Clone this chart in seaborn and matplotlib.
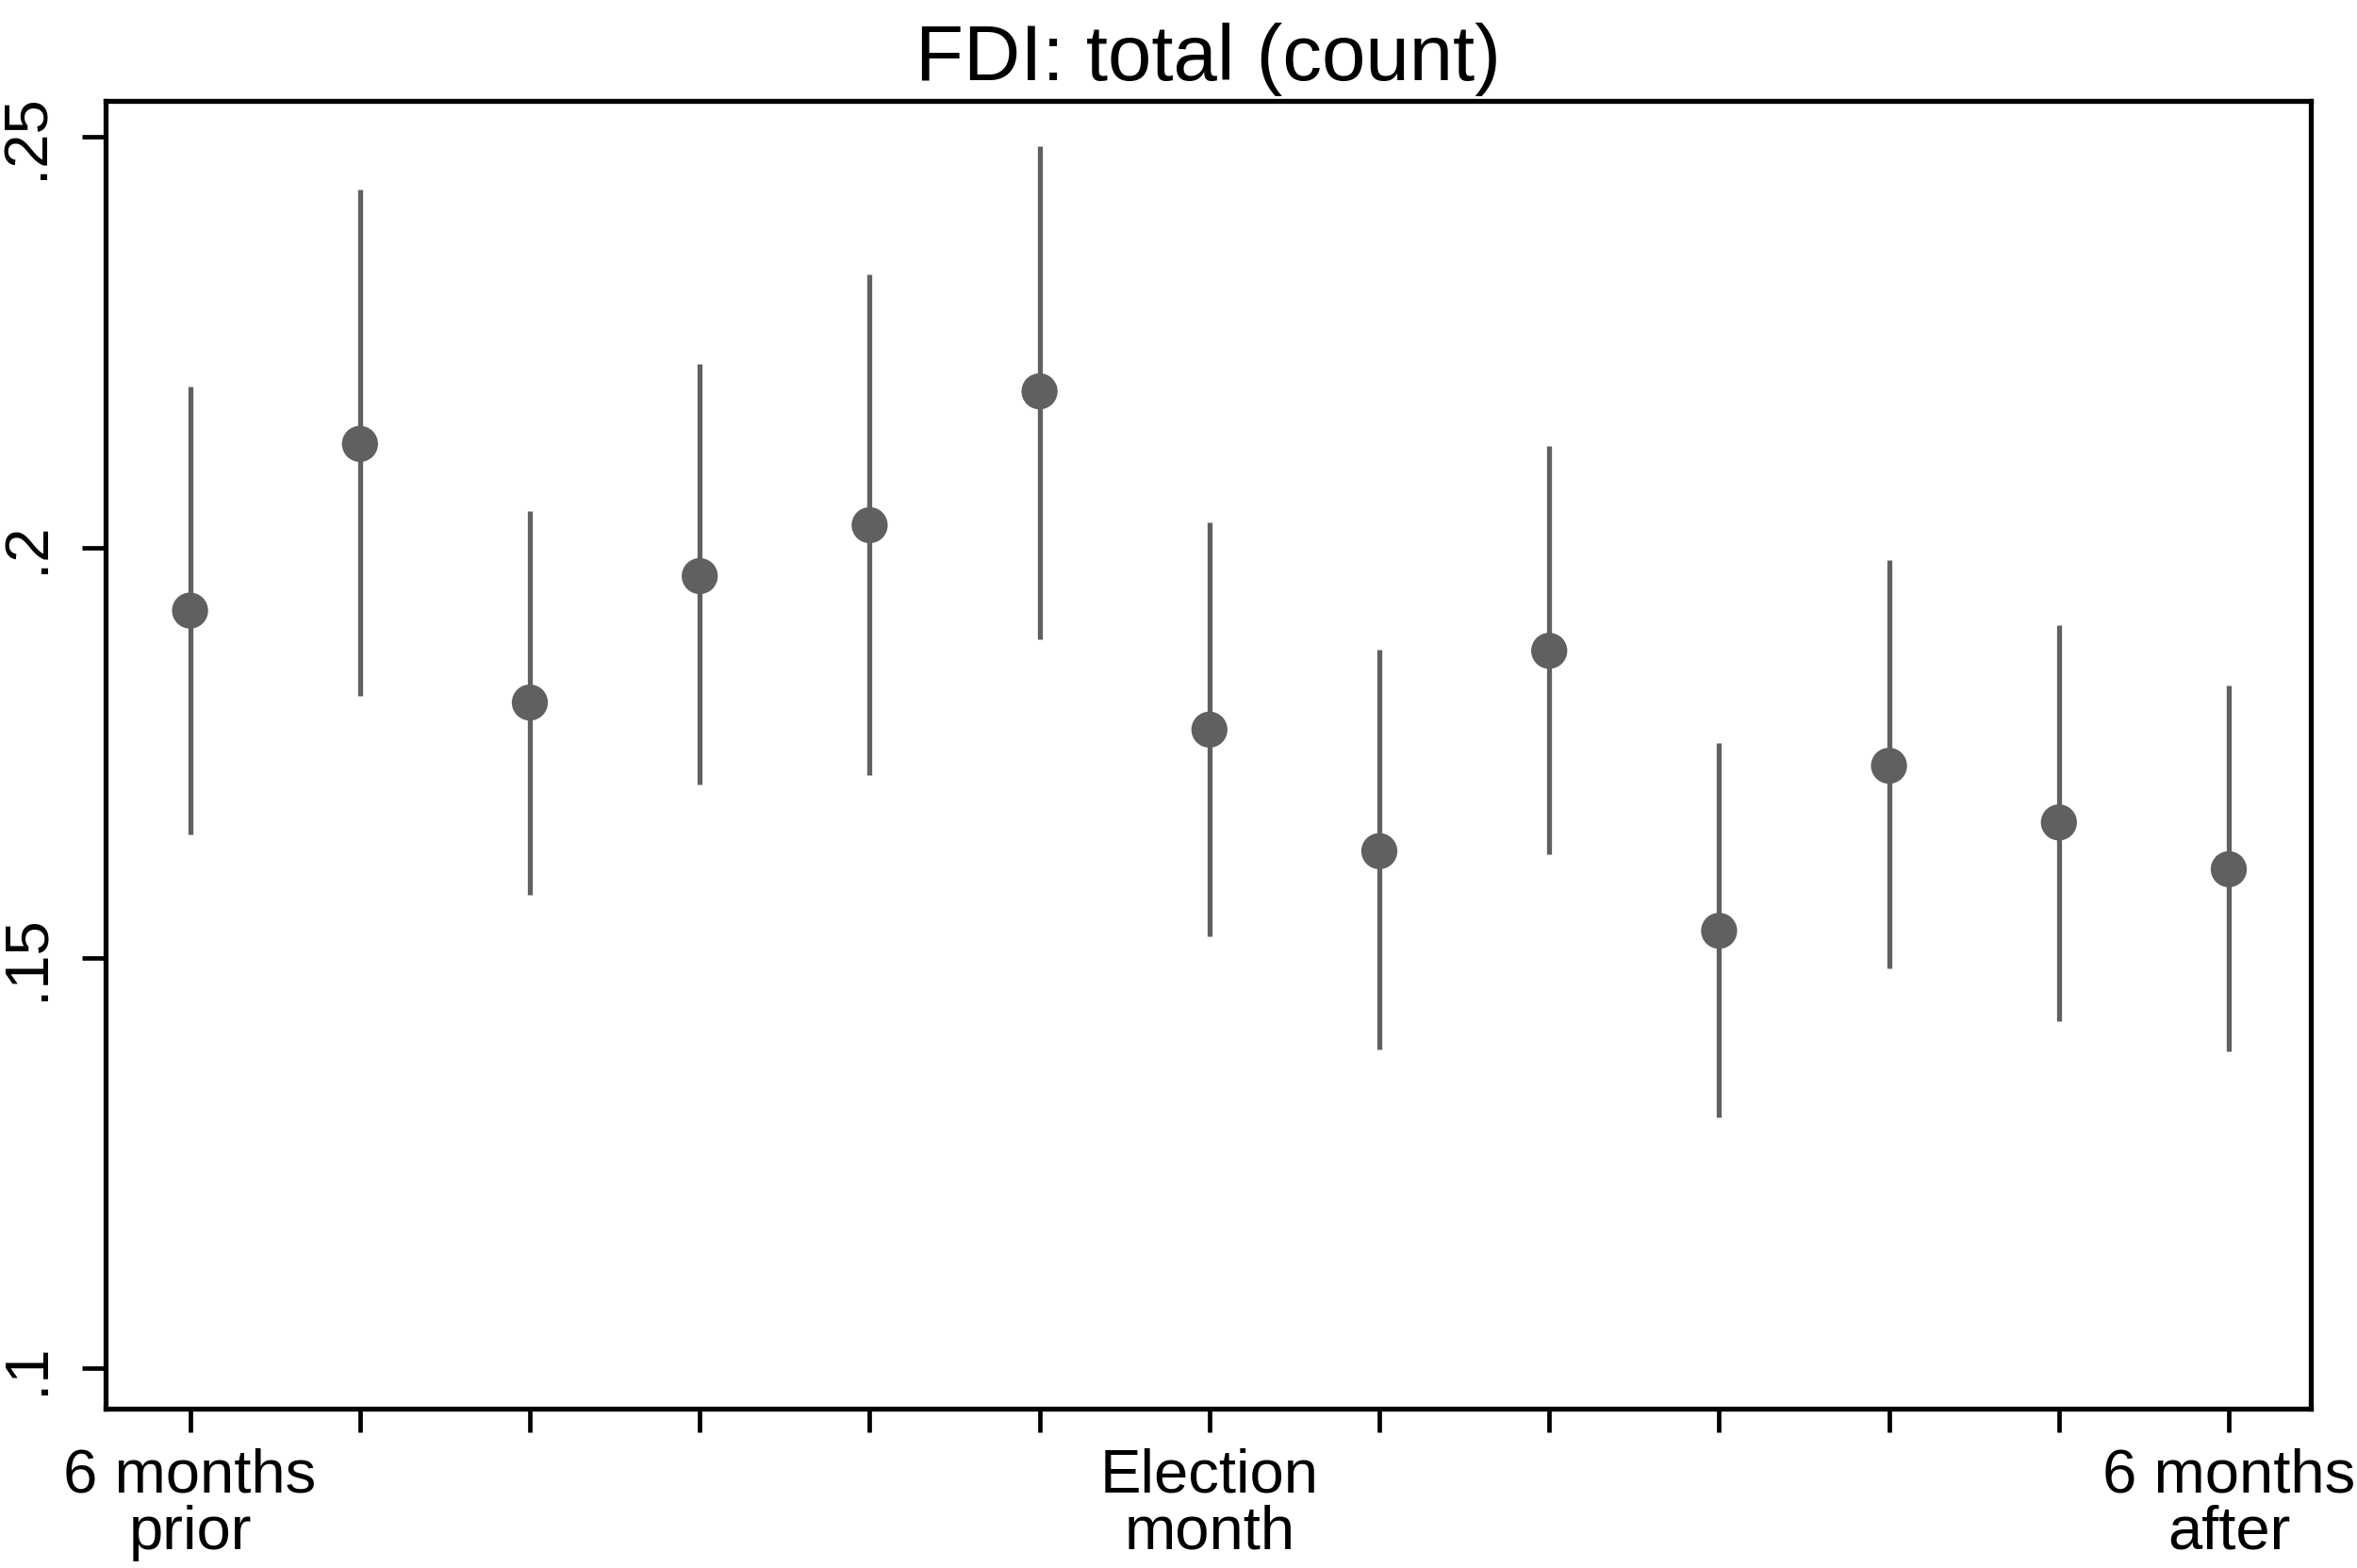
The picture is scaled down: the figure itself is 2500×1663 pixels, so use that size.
import matplotlib
matplotlib.use("Agg")
import matplotlib.pyplot as plt
import numpy as np
import pandas as pd
import seaborn as sns

# ── Data ──────────────────────────────────────────────────────────────────────
months = list(range(-6, 7))
estimate = [0.1923, 0.2126, 0.1811, 0.1965, 0.2027, 0.2190, 0.1778,
            0.1630, 0.1874, 0.1533, 0.1734, 0.1665, 0.1608]
ci_low = [0.1650, 0.1819, 0.1577, 0.1711, 0.1723, 0.1888, 0.1526,
          0.1388, 0.1626, 0.1306, 0.1487, 0.1423, 0.1386]
ci_high = [0.2196, 0.2436, 0.2044, 0.2223, 0.2332, 0.2489, 0.2031,
           0.1875, 0.2123, 0.1762, 0.1984, 0.1905, 0.1832]
tick_labels = ["6 months\nprior"] + [""] * 5 + ["Election\nmonth"] + [""] * 5 + ["6 months\nafter"]
y_ticks = [0.10, 0.15, 0.20, 0.25]
y_tick_labels = [".1", ".15", ".2", ".25"]

df = pd.DataFrame({"month": months, "est": estimate, "lo": ci_low, "hi": ci_high})
df["pos"] = np.arange(len(df))

# ── Plot ──────────────────────────────────────────────────────────────────────
sns.set_theme(style="ticks")
plt.rcParams["font.family"] = ["Liberation Sans", "DejaVu Sans"]
plt.rcParams["text.color"] = "black"
plt.rcParams["xtick.color"] = "black"
plt.rcParams["ytick.color"] = "black"

GREY = "#606060"

fig = plt.figure(figsize=(25, 16.63), dpi=100)
ax = fig.add_axes([0.0446, 0.1016, 0.9356, 0.8342])

ax.vlines(df["pos"], df["lo"], df["hi"], color=GREY, linewidth=3.8, zorder=2)
sns.scatterplot(data=df, x="pos", y="est", ax=ax, color=GREY, s=760,
                edgecolor="none", zorder=3, legend=False)

ax.set_xlim(-0.5, 12.48)
ax.set_ylim(0.0951, 0.2544)
ax.set_xticks(df["pos"])
ax.set_xticklabels(tick_labels, fontsize=47, linespacing=1.0, color="black")
ax.set_yticks(y_ticks)
ax.set_yticklabels(y_tick_labels, fontsize=47, rotation=90, va="center", color="black")
ax.set_xlabel("")
ax.set_ylabel("")
ax.set_title("FDI: total (count)", fontsize=60, pad=16, color="black")

for side in ["left", "right", "top", "bottom"]:
    ax.spines[side].set_visible(True)
    ax.spines[side].set_linewidth(3.8)
    ax.spines[side].set_color("black")
ax.tick_params(axis="x", direction="out", length=18, width=3.4, color="black", pad=12)
ax.tick_params(axis="y", direction="out", length=18, width=3.4, color="black", pad=20)

fig.savefig("out.png", dpi=100, facecolor="white")
